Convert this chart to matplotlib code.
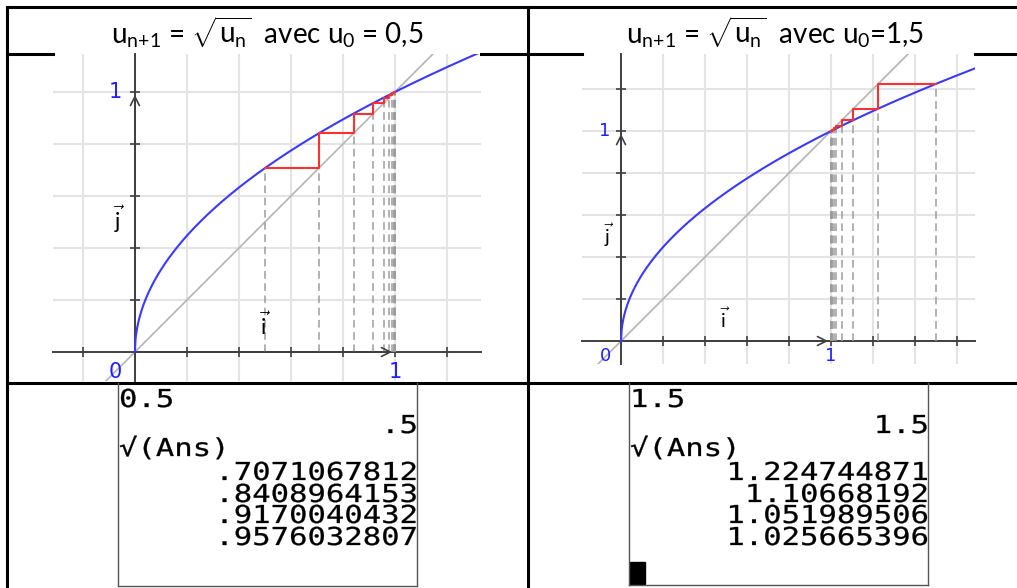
import numpy as np
import matplotlib
matplotlib.use('Agg')
import matplotlib.pyplot as plt
from matplotlib.lines import Line2D
from matplotlib.patches import PathPatch, Rectangle
from matplotlib.textpath import TextPath
from matplotlib.font_manager import FontProperties
from matplotlib.transforms import Affine2D

plt.rcParams['mathtext.fontset'] = 'custom'
plt.rcParams['mathtext.rm'] = 'Lato'
plt.rcParams['mathtext.it'] = 'Lato'
plt.rcParams['mathtext.bf'] = 'Lato:bold'

# terms of u(n+1) = sqrt(u(n)), as read from the calculator screens (and continued)
u_left = [0.5, 0.7071067812, 0.8408964153, 0.9170040432, 0.9576032807,
          0.9785720620, 0.9892280131, 0.9945994236, 0.9972960560,
          0.9986471128, 0.9993233276, 0.9996616066, 0.9998307890]
u_right = [1.5, 1.224744871, 1.10668192, 1.051989506, 1.025665396,
           1.012741527, 1.006350499, 1.003170216, 1.001583854,
           1.000791613, 1.000395728, 1.000197845]

titles = [r'$u_{n\!+\!1}$ = $\sqrt{u_n}$  avec $u_0$ = 0,5',
          r'$u_{n\!+\!1}$ = $\sqrt{u_n}$  avec $u_0$=1,5']

screen_left = [('0.5', 'l'), ('.5', 'r'), ('\u221a(Ans)', 'l'), ('.7071067812', 'r'),
               ('.8408964153', 'r'), ('.9170040432', 'r'), ('.9576032807', 'r')]
screen_right = [('1.5', 'l'), ('1.5', 'r'), ('\u221a(Ans)', 'l'), ('1.224744871', 'r'),
                ('1.10668192', 'r'), ('1.051989506', 'r'), ('1.025665396', 'r')]
screen_rows = [407, 433, 456, 480, 502, 523, 545]

W, H = 1017, 588
fig = plt.figure(figsize=(W / 100, H / 100), dpi=100)


def px(x, y):
    return x / W, 1 - y / H


def hline(y, x0, x1, lw=2.2, color='black'):
    a, b = px(x0, y)
    c, _ = px(x1, y)
    fig.add_artist(Line2D([a, c], [b, b], color=color, lw=lw, transform=fig.transFigure))


def vline(x, y0, y1, lw=2.2, color='black'):
    a, b = px(x, y0)
    _, d = px(x, y1)
    fig.add_artist(Line2D([a, a], [b, d], color=color, lw=lw, transform=fig.transFigure))


def graph(box, xlim, ylim, u, xt, yt, lab, fs):
    x0, y0, x1, y1 = box
    ax = fig.add_axes([x0 / W, 1 - y1 / H, (x1 - x0) / W, (y1 - y0) / H])
    ax.set_xlim(xlim)
    ax.set_ylim(ylim)
    for g in xt:
        ax.axvline(g, color='#e4e4e4', lw=1.5, zorder=0)
    for g in yt:
        ax.axhline(g, color='#e4e4e4', lw=1.5, zorder=0)
    for s in ['top', 'right']:
        ax.spines[s].set_visible(False)
    ax.spines['left'].set_position(('data', 0))
    ax.spines['bottom'].set_position(('data', 0))
    for s in ['left', 'bottom']:
        ax.spines[s].set_color('#404040')
        ax.spines[s].set_linewidth(1.4)
    ax.set_xticks(xt)
    ax.set_yticks(yt)
    ax.set_xticklabels([])
    ax.set_yticklabels([])
    ax.tick_params(direction='inout', length=7, width=1.2, color='#404040')

    xx = np.linspace(0, xlim[1], 600)
    ax.plot(xx, np.sqrt(xx), color='#3a3aff', lw=1.5, zorder=4)
    ax.plot(xlim, xlim, color='#b4b4b4', lw=1.2, zorder=2)

    # dashed verticals
    for k in range(len(u) - 1):
        ax.plot([u[k], u[k]], [0, u[k + 1]], color='#9c9c9c', lw=1.1,
                ls=(0, (5, 3)), zorder=3)
    # red staircase
    sx, sy = [u[0]], [u[1]]
    for k in range(1, len(u) - 1):
        sx += [u[k], u[k]]
        sy += [u[k], u[k + 1]]
    ax.plot(sx, sy, color='#ff3030', lw=1.5, zorder=5)

    ax.annotate('', xy=(1, 0), xytext=(0, 0),
                arrowprops=dict(arrowstyle='->', color='#404040', lw=1.2, mutation_scale=16))
    ax.annotate('', xy=(0, 1), xytext=(0, 0),
                arrowprops=dict(arrowstyle='->', color='#404040', lw=1.2, mutation_scale=16))

    ax.text(lab[0][0], lab[0][1], '0', color='#2020ff', fontsize=fs, ha='center', va='center')
    ax.text(1, lab[0][1], '1', color='#2020ff', fontsize=fs, ha='center', va='center')
    ax.text(lab[0][0], 1, '1', color='#2020ff', fontsize=fs, ha='center', va='center')
    ax.text(lab[1][0], lab[1][1], r'$\vec{\mathrm{i}}$', fontsize=fs + 1, ha='center', va='center',
            family='DejaVu Serif')
    ax.text(lab[2][0], lab[2][1], r'$\vec{\mathrm{j}}$', fontsize=fs + 1, ha='center', va='center',
            family='DejaVu Serif')
    return ax


graph((53, 54, 481, 381), (-0.315, 1.331), (-0.1115, 1.146), u_left,
      np.arange(-0.2, 1.21, 0.2), np.arange(0.2, 1.01, 0.2),
      [(-0.077, -0.077), (0.5, 0.1), (-0.06, 0.51)], 15)
graph((582, 54, 975, 364), (-0.186, 1.686), (-0.1095, 1.367), u_right,
      np.arange(0.2, 1.61, 0.2), np.arange(0.2, 1.21, 0.2),
      [(-0.076, -0.071), (0.49, 0.1), (-0.062, 0.505)], 13)

# table lines
hline(7, 7, W)
hline(54, 7, 53)
hline(54, 481, 582)
hline(54, 975, W)
hline(383, 7, W)
vline(7, 7, H)
vline(528, 7, H)

# titles
for t, cx in zip(titles, [267, 775]):
    x, y = px(cx, 32)
    fig.text(x, y, t, fontsize=20, family='Lato', ha='center', va='center')

# calculator screens
mono = FontProperties(family='DejaVu Sans Mono')
SX, SY = 30.6, 24.7
ADV = 0.602


def calc_text(s, x, y, ha):
    path = TextPath((0, 0), s, size=1, prop=mono)
    if ha == 'r':
        x = x - len(s) * ADV * SX
    tr = Affine2D().scale(SX, -SY).translate(x, y) + Affine2D().scale(1 / W, -1 / H).translate(0, 1) \
        + fig.transFigure
    fig.add_artist(PathPatch(path, transform=tr, facecolor='black', edgecolor='black', lw=0.2))


for (lines, (bx0, bx1, by1)) in [(screen_left, (118, 417, 586)), (screen_right, (629, 928, 585))]:
    vline(bx0, 383, by1, lw=1, color='#555555')
    vline(bx1, 383, by1, lw=1, color='#555555')
    hline(by1, bx0, bx1, lw=1, color='#555555')
    for (s, ha), row in zip(lines, screen_rows):
        calc_text(s, bx0 + 1 if ha == 'l' else bx1 + 1, row, ha)

a, b = px(630, 584)
fig.add_artist(Rectangle((a, b), 15 / W, 22 / H, transform=fig.transFigure, color='black'))

fig.savefig('out.png', dpi=100)
